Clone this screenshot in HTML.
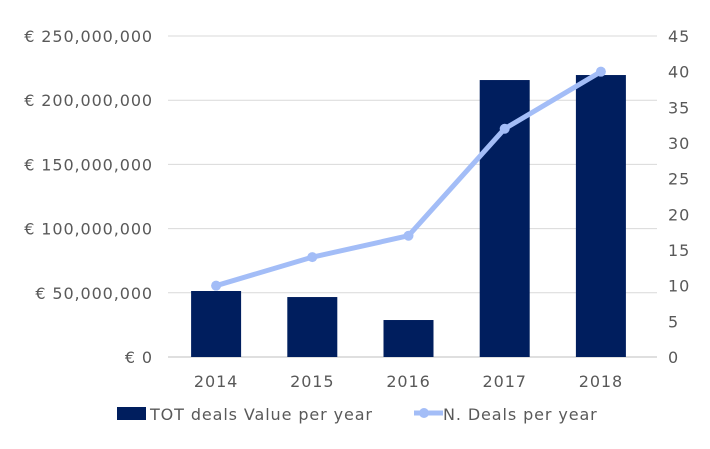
<!DOCTYPE html>
<html><head><meta charset="utf-8"><style>
body{margin:0;background:#fff;}
svg text{font-family:"DejaVu Sans","Liberation Sans",sans-serif;font-size:16px;letter-spacing:0.9px;fill:#595959;}
</style></head><body>
<svg id="chart" width="710" height="444" xmlns="http://www.w3.org/2000/svg"></svg>
<script>
const categories=["2014","2015","2016","2017","2018"];
const dealValues=[51400000,46700000,28800000,215700000,219600000];
const dealCounts=[10,14,17,32,40];
const leftTicks=[0,50000000,100000000,150000000,200000000,250000000];
const leftTickLabels=["€ 0","€ 50,000,000","€ 100,000,000","€ 150,000,000","€ 200,000,000","€ 250,000,000"];
const rightTicks=[0,5,10,15,20,25,30,35,40,45];

const svg=document.getElementById('chart');
const NS='http://www.w3.org/2000/svg';
const X0=168,X1=649,Y0=357,Y1=36;
const yL=v=>Y0-(v/250000000)*(Y0-Y1);
const yR=v=>Y0-(v/45)*(Y0-Y1);
const band=(X1-X0)/categories.length;
const xC=i=>X0+band*(i+0.5);
function mk(tag,attrs,txt){const e=document.createElementNS(NS,tag);for(const k in attrs)e.setAttribute(k,attrs[k]);if(txt!==undefined)e.textContent=txt;svg.appendChild(e);return e;}

leftTicks.forEach((t,i)=>{
  const g=mk('line',{x1:X0,x2:X1+8,y1:yL(t),y2:yL(t),stroke:i===0?'#bfbfbf':'#d9d9d9','stroke-width':1});
  
  
  const l=mk('text',{x:153,y:yL(t)+6,'text-anchor':'end'},leftTickLabels[i]);
  
  
});
rightTicks.forEach(t=>{
  const l=mk('text',{x:668,y:yR(t)+6,'text-anchor':'start'},String(t));
  
  
});
categories.forEach((c,i)=>{
  const b=mk('rect',{x:xC(i)-25,y:yL(dealValues[i]),width:50,height:Y0-yL(dealValues[i]),fill:'#001e5e'});
  
  
  const l=mk('text',{x:xC(i),y:387,'text-anchor':'middle'},c);
  
  
});
const pts=dealCounts.map((v,i)=>xC(i)+','+yR(v)).join(' ');
const pl=mk('polyline',{points:pts,fill:'none',stroke:'#a3bdf7','stroke-width':5,'stroke-linejoin':'round'});


dealCounts.forEach((v,i)=>{
  const p=mk('circle',{cx:xC(i),cy:yR(v),r:5,fill:'#a3bdf7'});
  
  
});
const s=mk('rect',{x:117,y:407,width:29,height:13,fill:'#001e5e'});


const t1=mk('text',{x:150,y:420},'TOT deals Value per year');


const ll=mk('line',{x1:414,x2:443,y1:413,y2:413,stroke:'#a3bdf7','stroke-width':5});


const lc=mk('circle',{cx:424,cy:413,r:5,fill:'#a3bdf7'});


const t2=mk('text',{x:443,y:420},'N. Deals per year');


</script>
</body></html>
